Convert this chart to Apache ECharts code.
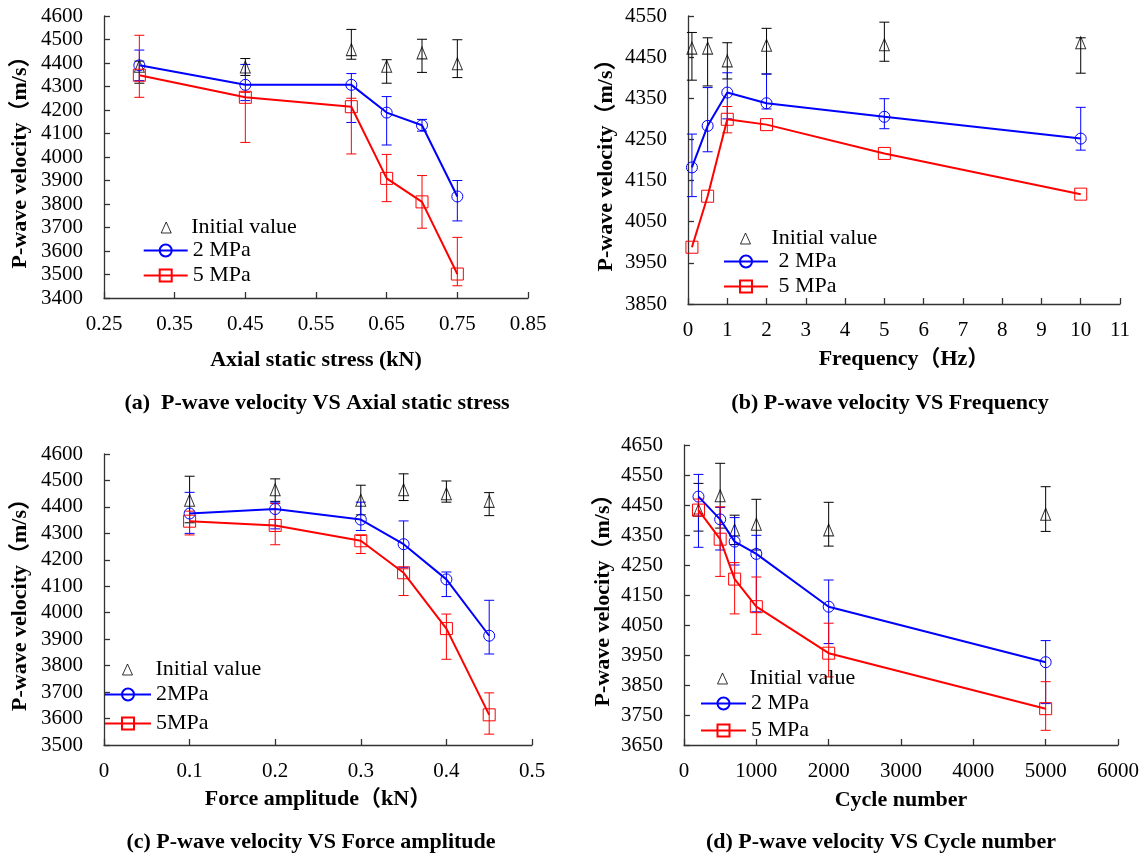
<!DOCTYPE html>
<html>
<head>
<meta charset="utf-8">
<script src="https://cdn.jsdelivr.net/npm/echarts@6/dist/echarts.min.js"></script>
<style>html,body{margin:0;padding:0;background:#fff;}#c{width:1146px;height:853px;}</style>
</head>
<body>
<div id="c"></div>
<script>
// ---------- Panel (a): Axial static stress ----------
const stressX = [0.3, 0.45, 0.6, 0.65, 0.7, 0.75];
const stressInit = [4386, 4383, 4457, 4386, 4443, 4397];
const stressInitLo = [4314, 4347, 4416, 4314, 4360, 4338];
const stressInitHi = [4408, 4419, 4543, 4414, 4501, 4499];
const stress2 = [4390, 4307, 4307, 4189, 4135, 3832];
const stress2Lo = [4325, 4240, 4147, 4051, 4110, 3728];
const stress2Hi = [4455, 4394, 4355, 4257, 4160, 3900];
const stress5 = [4348, 4254, 4214, 3909, 3809, 3502];
const stress5Lo = [4254, 4062, 4013, 3810, 3697, 3452];
const stress5Hi = [4518, 4275, 4250, 4011, 3921, 3658];

// ---------- Panel (b): Frequency ----------
const freqX = [0.1, 0.5, 1, 2, 5, 10];
const freqInit = [4472, 4472, 4441, 4479, 4480, 4485];
const freqInitLo = [4394, 4380, 4397, 4409, 4440, 4411];
const freqInitHi = [4510, 4497, 4485, 4520, 4535, 4497];
const freq2 = [4182, 4283, 4364, 4338, 4305, 4252];
const freq2Lo = [4111, 4220, 4300, 4324, 4276, 4224];
const freq2Hi = [4263, 4376, 4412, 4409, 4349, 4328];
const freq5 = [3988, 4112, 4299, 4286, 4216, 4117];
const freq5Lo = [3988, 4112, 4266, 4286, 4216, 4117];
const freq5Hi = [3988, 4112, 4330, 4286, 4216, 4117];

// ---------- Panel (c): Force amplitude ----------
const ampX = [0.1, 0.2, 0.3, 0.35, 0.4, 0.45];
const ampInit = [4425, 4465, 4425, 4465, 4450, 4421];
const ampInitLo = [4340, 4421, 4370, 4424, 4418, 4367];
const ampInitHi = [4516, 4506, 4482, 4525, 4498, 4454];
const amp2 = [4375, 4392, 4352, 4259, 4126, 3913];
const amp2Lo = [4300, 4317, 4311, 4170, 4061, 3844];
const amp2Hi = [4455, 4418, 4418, 4347, 4154, 4047];
const amp5 = [4346, 4330, 4272, 4151, 3940, 3614];
const amp5Lo = [4294, 4257, 4224, 4065, 3824, 3541];
const amp5Hi = [4384, 4413, 4292, 4166, 3995, 3697];

// ---------- Panel (d): Cycle number ----------
const cycleX = [200, 500, 700, 1000, 2000, 5000];
const cycleInit = [4433, 4481, 4367, 4386, 4367, 4419];
const cycleInitLo = [4363, 4373, 4318, 4300, 4313, 4362];
const cycleInitHi = [4522, 4589, 4416, 4469, 4459, 4511];
const cycle2 = [4478, 4402, 4328, 4287, 4111, 3926];
const cycle2Lo = [4309, 4300, 4250, 4094, 3988, 3788];
const cycle2Hi = [4552, 4442, 4408, 4349, 4200, 3998];
const cycle5 = [4433, 4336, 4203, 4111, 3956, 3771];
const cycle5Lo = [4420, 4212, 4087, 4019, 3877, 3699];
const cycle5Hi = [4470, 4444, 4258, 4210, 4056, 3861];

// ---------- Texts ----------
const yTitle = 'P-wave velocity（m/s）';
const xTitles = ['Axial static stress (kN)', 'Frequency（Hz）', 'Force amplitude（kN）', 'Cycle number'];
const captions = ['(a)  P-wave velocity VS Axial static stress', '(b) P-wave velocity VS Frequency',
                  '(c) P-wave velocity VS Force amplitude', '(d) P-wave velocity VS Cycle number'];
const initName = 'Initial value';
const mpaNames = [['2 MPa', '5 MPa'], [' 2 MPa', ' 5 MPa'], ['2MPa', '5MPa'], ['2 MPa', '5 MPa']];

const FONT = "'Liberation Serif', 'Times New Roman', 'Noto Sans CJK SC', serif";
const BLUE = '#0000ff', RED = '#ff0000', BLACK = '#000000';

const panels = [
  {x: stressX, init: [stressInit, stressInitLo, stressInitHi], s2: [stress2, stress2Lo, stress2Hi], s5: [stress5, stress5Lo, stress5Hi],
   xmin: 0.25, xmax: 0.85, xint: 0.1, ymin: 3400, ymax: 4600, yint: 100,
   grid: {left: 104, top: 16, width: 424, height: 282}, xGap: 51, yGap: 73,
   leg: {lineLeft: 142.7, lineW: 44, triC: 165.7, textX: 190.7, rows: [223, 248, 273]}, cap: [317, 403]},
  {x: freqX, init: [freqInit, freqInitLo, freqInitHi], s2: [freq2, freq2Lo, freq2Hi], s5: [freq5, freq5Lo, freq5Hi],
   xmin: 0, xmax: 11, xint: 1, ymin: 3850, ymax: 4550, yint: 100,
   grid: {left: 688, top: 16, width: 432, height: 288}, xGap: 44, yGap: 71,
   leg: {lineLeft: 723, lineW: 44, triC: 745, textX: 771, rows: [234, 259, 284]}, cap: [890, 403]},
  {x: ampX, init: [ampInit, ampInitLo, ampInitHi], s2: [amp2, amp2Lo, amp2Hi], s5: [amp5, amp5Lo, amp5Hi],
   xmin: 0, xmax: 0.5, xint: 0.1, ymin: 3500, ymax: 4600, yint: 100,
   grid: {left: 104, top: 454, width: 428, height: 291}, xGap: 43, yGap: 73,
   leg: {lineLeft: 104, lineW: 46, triC: 127, textX: 155, rows: [665, 692, 721]}, cap: [311, 842]},
  {x: cycleX, init: [cycleInit, cycleInitLo, cycleInitHi], s2: [cycle2, cycle2Lo, cycle2Hi], s5: [cycle5, cycle5Lo, cycle5Hi],
   xmin: 0, xmax: 6000, xint: 1000, ymin: 3650, ymax: 4650, yint: 100,
   grid: {left: 684, top: 445, width: 434, height: 300}, xGap: 44, yGap: 70,
   leg: {lineLeft: 700, lineW: 45, triC: 722, textX: 749, rows: [674, 701, 728]}, cap: [881, 842]}
];

function errRender(color) {
  return function (params, api) {
    const x = api.value(0), lo = api.value(1), hi = api.value(2);
    if (lo === hi) return null;
    const pt = api.coord([x, hi]);
    const pb = api.coord([x, lo]);
    const w = 5;
    const st = {stroke: color, lineWidth: 1};
    return {
      type: 'group',
      children: [
        {type: 'line', shape: {x1: pt[0], y1: pt[1], x2: pb[0], y2: pb[1]}, style: st},
        {type: 'line', shape: {x1: pt[0] - w, y1: pt[1], x2: pt[0] + w, y2: pt[1]}, style: st},
        {type: 'line', shape: {x1: pb[0] - w, y1: pb[1], x2: pb[0] + w, y2: pb[1]}, style: st}
      ]
    };
  };
}

const axisLineStyle = {color: '#333', width: 1.3};
const grids = [], xAxes = [], yAxes = [], series = [], legends = [], graphics = [];

panels.forEach((p, i) => {
  grids.push(p.grid);
  xAxes.push({
    type: 'value', gridIndex: i, min: p.xmin, max: p.xmax, interval: p.xint,
    name: xTitles[i], nameLocation: 'middle', nameGap: p.xGap,
    nameTextStyle: {fontFamily: FONT, fontSize: 22, fontWeight: 'bold', color: '#000'},
    axisLine: {onZero: false, lineStyle: axisLineStyle},
    axisTick: {inside: true, length: 6, lineStyle: axisLineStyle},
    axisLabel: {fontFamily: FONT, fontSize: 21, color: '#000', margin: 16, formatter: v => String(v)},
    splitLine: {show: false}
  });
  yAxes.push({
    type: 'value', gridIndex: i, min: p.ymin, max: p.ymax, interval: p.yint,
    name: yTitle, nameLocation: 'middle', nameGap: p.yGap,
    nameTextStyle: {fontFamily: FONT, fontSize: 22, fontWeight: 'bold', color: '#000'},
    axisLine: {show: true, onZero: false, lineStyle: axisLineStyle},
    axisTick: {show: true, inside: true, length: 6, lineStyle: axisLineStyle},
    axisLabel: {fontFamily: FONT, fontSize: 21, color: '#000', margin: 21, formatter: v => String(v)},
    splitLine: {show: false}
  });
  const sets = [
    {d: p.init, color: BLACK, name: initName, kind: 'init'},
    {d: p.s2, color: BLUE, name: mpaNames[i][0], kind: 'circle'},
    {d: p.s5, color: RED, name: mpaNames[i][1], kind: 'rect'}
  ];
  sets.forEach(s => {
    series.push({
      type: 'custom', xAxisIndex: i, yAxisIndex: i, silent: true,
      renderItem: errRender(s.color),
      encode: {x: 0, y: [1, 2]},
      data: p.x.map((x, k) => [x, s.d[1][k], s.d[2][k]])
    });
    const pts = p.x.map((x, k) => [x, s.d[0][k]]);
    if (s.kind === 'init') {
      series.push({
        type: 'scatter', name: s.name, xAxisIndex: i, yAxisIndex: i,
        symbol: 'triangle', symbolSize: [10, 12],
        itemStyle: {color: 'rgba(0,0,0,0)', borderColor: BLACK, borderWidth: 1},
        data: pts
      });
    } else {
      series.push({
        type: 'line', name: s.name, xAxisIndex: i, yAxisIndex: i,
        symbol: s.kind, symbolSize: s.kind === 'circle' ? 11 : 12,
        showAllSymbol: true,
        lineStyle: {color: s.color, width: 2},
        itemStyle: {color: 'rgba(0,0,0,0)', borderColor: s.color, borderWidth: 1},
        data: pts
      });
    }
  });
  const L = p.leg;
  // "Initial value" legend: small hollow triangle icon
  const triW = 10, triH = 11;
  legends.push({
    left: L.triC - triW / 2, top: L.rows[0] - triH / 2 - 1, padding: 0,
    itemWidth: triW, itemHeight: triH, selectedMode: false,
    itemStyle: {color: 'rgba(0,0,0,0)', borderColor: BLACK, borderWidth: 1},
    data: [{name: initName, icon: 'triangle'}],
    textStyle: {fontFamily: FONT, fontSize: 22, color: '#000',
                padding: [0, 0, 0, L.textX - (L.triC + triW / 2 + 5)]}
  });
  [mpaNames[i][0], mpaNames[i][1]].forEach((n, k) => {
    const ih = 15;
    legends.push({
      left: L.lineLeft, top: L.rows[k + 1] - ih / 2 - 1, padding: 0,
      itemWidth: L.lineW, itemHeight: ih, selectedMode: false,
      data: [n],
      textStyle: {fontFamily: FONT, fontSize: 22, color: '#000',
                  padding: [0, 0, 0, Math.max(0, L.textX - (L.lineLeft + L.lineW + 5))]}
    });
  });
  graphics.push({
    type: 'text', x: p.cap[0], y: p.cap[1],
    style: {text: captions[i], fontFamily: FONT, fontSize: 22, fontWeight: 'bold', fill: '#000',
            textAlign: 'center', textVerticalAlign: 'middle'}
  });
});

const chart = echarts.init(document.getElementById('c'), null, {renderer: 'canvas'});
chart.setOption({
  backgroundColor: '#fff',
  animation: false,
  grid: grids,
  xAxis: xAxes,
  yAxis: yAxes,
  legend: legends,
  series: series,
  graphic: graphics
});
</script>
</body>
</html>
